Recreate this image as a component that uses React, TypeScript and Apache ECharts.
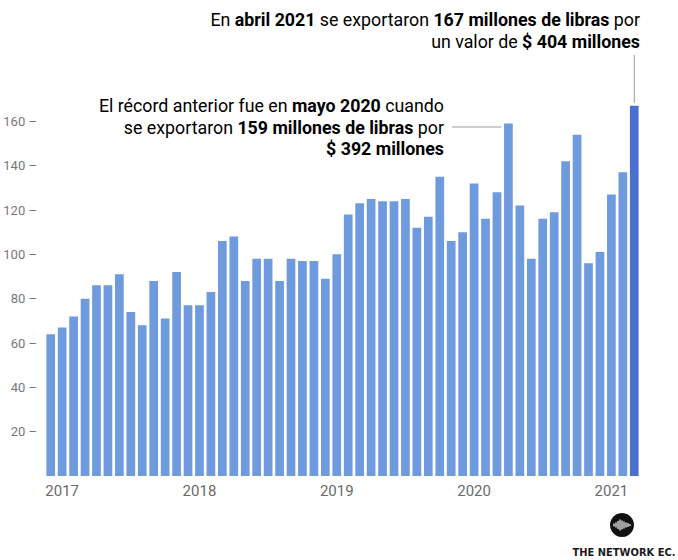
import React, { useEffect, useRef } from "react";
import * as echarts from "echarts";

const months: string[] = [];
for (const y of [2017, 2018, 2019, 2020]) for (let m = 1; m <= 12; m++) months.push(`${y}-${m}`);
for (let m = 1; m <= 4; m++) months.push(`2021-${m}`);

const values2017 = [64, 67, 72, 80, 86, 86, 91, 74, 68, 88, 71, 92];
const values2018 = [77, 77, 83, 106, 108, 88, 98, 98, 88, 98, 97, 97];
const values2019 = [89, 100, 118, 123, 125, 124, 124, 125, 112, 117, 135, 106];
const values2020 = [110, 132, 116, 128, 159, 122, 98, 116, 119, 142, 154, 96];
const values2021 = [101, 127, 137, 167];
const exportsLb = [...values2017, ...values2018, ...values2019, ...values2020, ...values2021];

const yTicks = [20, 40, 60, 80, 100, 120, 140, 160];

const BAR = "#6e9ade";
const BAR_LAST = "#4b6fcf";
const TXT = "#606060";
const BOLD = "#3c3c3c";
const FONT = "Roboto";

export default function App() {
  const ref = useRef<HTMLDivElement>(null);
  useEffect(() => {
    const chart = echarts.init(ref.current!, null, { renderer: "svg" });
    const rich = {
      r: { fontFamily: FONT, fontSize: 17.8, color: TXT },
      b: { fontFamily: FONT, fontSize: 17.8, color: BOLD, fontWeight: "bold" as const },
    };
    const line = (x: number, y: number, text: string) => ({
      type: "text",
      x,
      y,
      style: { text, rich, align: "right", verticalAlign: "middle" },
    });
    const option: any = {
      animation: false,
      backgroundColor: "#ffffff",
      grid: { left: 45, right: 38, top: 77, bottom: 84 },
      xAxis: {
        type: "category",
        data: months,
        axisLine: { show: false },
        axisTick: { show: false },
        axisLabel: {
          interval: 0,
          margin: 7,
          color: "#6a6a6a",
          fontFamily: FONT,
          fontSize: 15,
          formatter: (v: string) => (v.endsWith("-2") ? v.split("-")[0] : ""),
        },
      },
      yAxis: {
        type: "value",
        min: 0,
        max: 180,
        interval: 20,
        splitLine: { show: false },
        axisLine: { show: false },
        axisTick: { show: false },
        axisLabel: {
          margin: 8,
          color: "#777777",
          fontFamily: FONT,
          fontSize: 13,
          formatter: (v: number) => (yTicks.includes(v) ? `${v} –` : ""),
        },
      },
      series: [
        {
          type: "bar",
          data: exportsLb.map((v, i) => ({
            value: v,
            itemStyle: { color: i === exportsLb.length - 1 ? BAR_LAST : BAR },
          })),
          barCategoryGap: "24%",
        },
      ],
    };
    chart.setOption(option);

    const may = chart.convertToPixel({ gridIndex: 0 }, ["2020-5", 159]) as number[];
    const apr = chart.convertToPixel({ gridIndex: 0 }, ["2021-4", 167]) as number[];

    const waveX = [-8, -6, -4, -2, 0, 2, 4, 6, 8];
    const waveH = [3, 5, 8, 11, 9, 7, 5, 4, 2];
    const cx = 622, cy = 525;

    chart.setOption({
      graphic: [
        line(640, 19, "{r|En }{b|abril 2021}{r| se exportaron }{b|167 millones de libras}{r| por}"),
        line(640, 41, "{r|un valor de }{b|$ 404 millones}"),
        line(444, 105, "{r|El récord anterior fue en }{b|mayo 2020}{r| cuando}"),
        line(444, 127, "{r|se exportaron }{b|159 millones de libras}{r| por}"),
        line(444, 148, "{b|$ 392 millones}"),
        {
          type: "line",
          shape: { x1: 452, y1: 127, x2: may[0] - 7, y2: 127 },
          style: { stroke: "#9a9a9a", lineWidth: 1 },
        },
        {
          type: "line",
          shape: { x1: apr[0], y1: 55, x2: apr[0], y2: apr[1] - 3 },
          style: { stroke: "#9a9a9a", lineWidth: 1 },
        },
        { type: "circle", shape: { cx, cy, r: 12 }, style: { fill: "#111111" } },
        ...waveX.map((dx, i) => ({
          type: "rect",
          shape: { x: cx + dx - 0.6, y: cy - waveH[i] / 2, width: 1.2, height: waveH[i] },
          style: { fill: "#ffffff" },
        })),
        {
          type: "text",
          x: 624,
          y: 552,
          style: {
            text: "THE NETWORK EC.",
            fontFamily: "DejaVu Sans Condensed",
            fontWeight: "bold",
            fontSize: 11,
            fill: "#1a1a1a",
            align: "center",
            verticalAlign: "middle",
          },
        },
      ],
    });
    return () => chart.dispose();
  }, []);
  return <div ref={ref} style={{ width: 678, height: 560, position: "absolute", left: 0, top: 0 }} />;
}
